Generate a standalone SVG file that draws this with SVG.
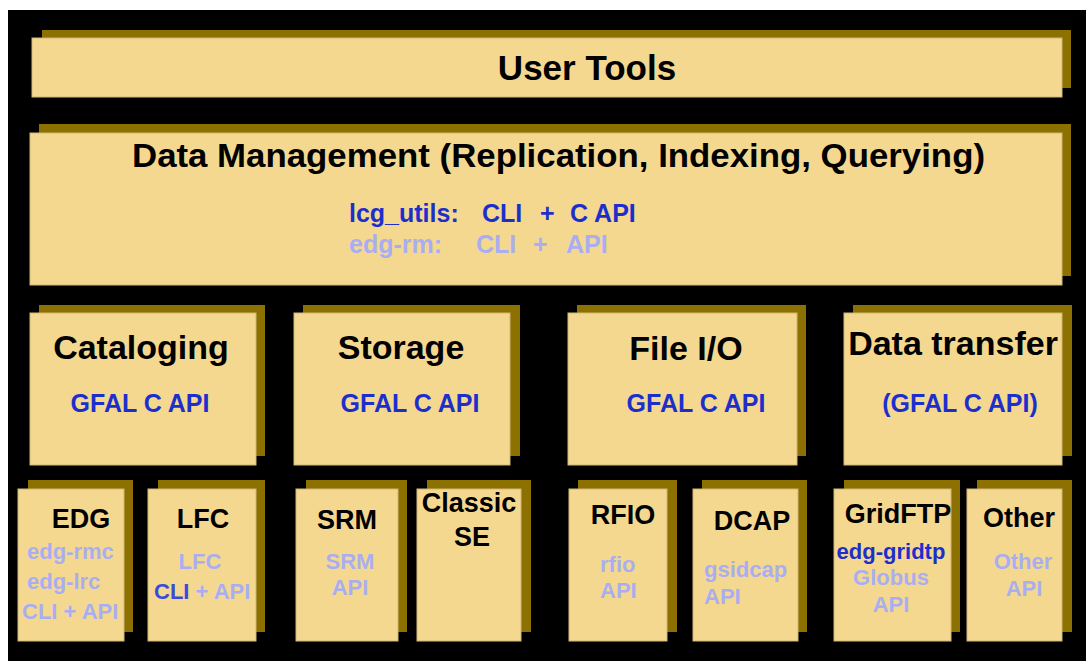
<svg xmlns="http://www.w3.org/2000/svg" width="1086" height="661" viewBox="0 0 1086 661">
<style>
.sh{fill:#8c7000}
.fc{fill:#f5d890;stroke:#d2b678;stroke-width:1}
text{font-family:"Liberation Sans",Arial,sans-serif;font-weight:bold}
.t{fill:#000}
.big{font-size:34px}
.mid{font-size:27px}
.dk{fill:#1c2fcc}
.md{fill:#3a4bdc}
.lt{fill:#a9aef2}
.s24{font-size:25px}
.s22{font-size:22px}
.c{text-anchor:middle}
</style>
<rect x="0" y="0" width="1086" height="661" fill="#ffffff"/>
<rect x="8" y="10" width="1078" height="651" fill="#000000"/>
<g id="user-tools">
<rect class="sh" x="42" y="30" width="1029" height="58"/>
<rect class="fc" x="32" y="38" width="1030" height="59"/>
<text class="t c" x="587" y="80" style="font-size:35px">User Tools</text>
</g>
<g id="data-management">
<rect class="sh" x="39" y="124" width="1032" height="152"/>
<rect class="fc" x="30" y="133" width="1032" height="152"/>
<text class="t big" x="132" y="167" textLength="853" lengthAdjust="spacingAndGlyphs">Data Management (Replication, Indexing, Querying)</text>
<text class="dk s24" y="222"><tspan x="349">lcg_utils:</tspan><tspan x="482">CLI</tspan><tspan x="540">+</tspan><tspan x="570">C API</tspan></text>
<text class="lt s24" y="253"><tspan x="349">edg-rm:</tspan><tspan x="476">CLI</tspan><tspan x="533">+</tspan><tspan x="566">API</tspan></text>
</g>
<g id="cataloging">
<rect class="sh" x="39" y="305" width="226" height="151"/>
<rect class="fc" x="30" y="313" width="226" height="152"/>
<text class="t big c" x="141" y="359">Cataloging</text>
<text class="dk s24 c" x="140" y="412">GFAL C API</text>
</g>
<g id="storage">
<rect class="sh" x="303" y="305" width="217" height="151"/>
<rect class="fc" x="294" y="313" width="216" height="152"/>
<text class="t big c" x="401" y="359">Storage</text>
<text class="dk s24 c" x="410" y="412">GFAL C API</text>
</g>
<g id="file-io">
<rect class="sh" x="577" y="305" width="229" height="151"/>
<rect class="fc" x="568" y="313" width="229" height="152"/>
<text class="t big c" x="686" y="360">File I/O</text>
<text class="dk s24 c" x="696" y="412">GFAL C API</text>
</g>
<g id="data-transfer">
<rect class="sh" x="853" y="305" width="219" height="151"/>
<rect class="fc" x="844" y="313" width="218" height="152"/>
<text class="t big c" x="953" y="355">Data transfer</text>
<text class="dk s24 c" x="960" y="412">(GFAL C API)</text>
</g>
<g id="edg">
<rect class="sh" x="28" y="480" width="105" height="152"/>
<rect class="fc" x="18" y="489" width="106" height="152"/>
<text class="t mid c" x="81" y="528">EDG</text>
<text class="lt s22" x="27" y="559">edg-rmc</text>
<text class="lt s22" x="27" y="589">edg-lrc</text>
<text class="lt s22" x="22" y="619">CLI + API</text>
</g>
<g id="lfc">
<rect class="sh" x="158" y="480" width="107" height="152"/>
<rect class="fc" x="148" y="489" width="108" height="152"/>
<text class="t mid c" x="203" y="528">LFC</text>
<text class="lt s22 c" x="200" y="569">LFC</text>
<text class="s22" x="154" y="599"><tspan class="md">CLI</tspan><tspan class="lt"> + API</tspan></text>
</g>
<g id="srm">
<rect class="sh" x="306" y="480" width="101" height="152"/>
<rect class="fc" x="296" y="489" width="102" height="152"/>
<text class="t mid c" x="347" y="529">SRM</text>
<text class="lt s22 c" x="350" y="569">SRM</text>
<text class="lt s22 c" x="350" y="595">API</text>
</g>
<g id="classic-se">
<rect class="sh" x="427" y="480" width="104" height="152"/>
<rect class="fc" x="417" y="489" width="104" height="152"/>
<text class="t mid c" x="469" y="512">Classic</text>
<text class="t mid c" x="472" y="546">SE</text>
</g>
<g id="rfio">
<rect class="sh" x="578" y="480" width="99" height="152"/>
<rect class="fc" x="569" y="489" width="98" height="152"/>
<text class="t mid c" x="623" y="524">RFIO</text>
<text class="lt s22" x="600" y="572">rfio</text>
<text class="lt s22" x="600" y="598">API</text>
</g>
<g id="dcap">
<rect class="sh" x="702" y="480" width="105" height="152"/>
<rect class="fc" x="693" y="489" width="105" height="152"/>
<text class="t mid c" x="752" y="530">DCAP</text>
<text class="lt s22" x="704" y="577">gsidcap</text>
<text class="lt s22" x="704" y="604">API</text>
</g>
<g id="gridftp">
<rect class="sh" x="844" y="480" width="116" height="152"/>
<rect class="fc" x="834" y="489" width="117" height="152"/>
<text class="t mid c" x="898" y="523">GridFTP</text>
<text class="dk s22 c" x="891" y="559">edg-gridtp</text>
<text class="lt s22 c" x="891" y="585">Globus</text>
<text class="lt s22 c" x="891" y="612">API</text>
</g>
<g id="other">
<rect class="sh" x="977" y="480" width="95" height="152"/>
<rect class="fc" x="967" y="489" width="95" height="152"/>
<text class="t mid c" x="1019" y="527">Other</text>
<text class="lt s22 c" x="1023" y="569">Other</text>
<text class="lt s22 c" x="1024" y="596">API</text>
</g>
<g id="connectors"></g>
</svg>
